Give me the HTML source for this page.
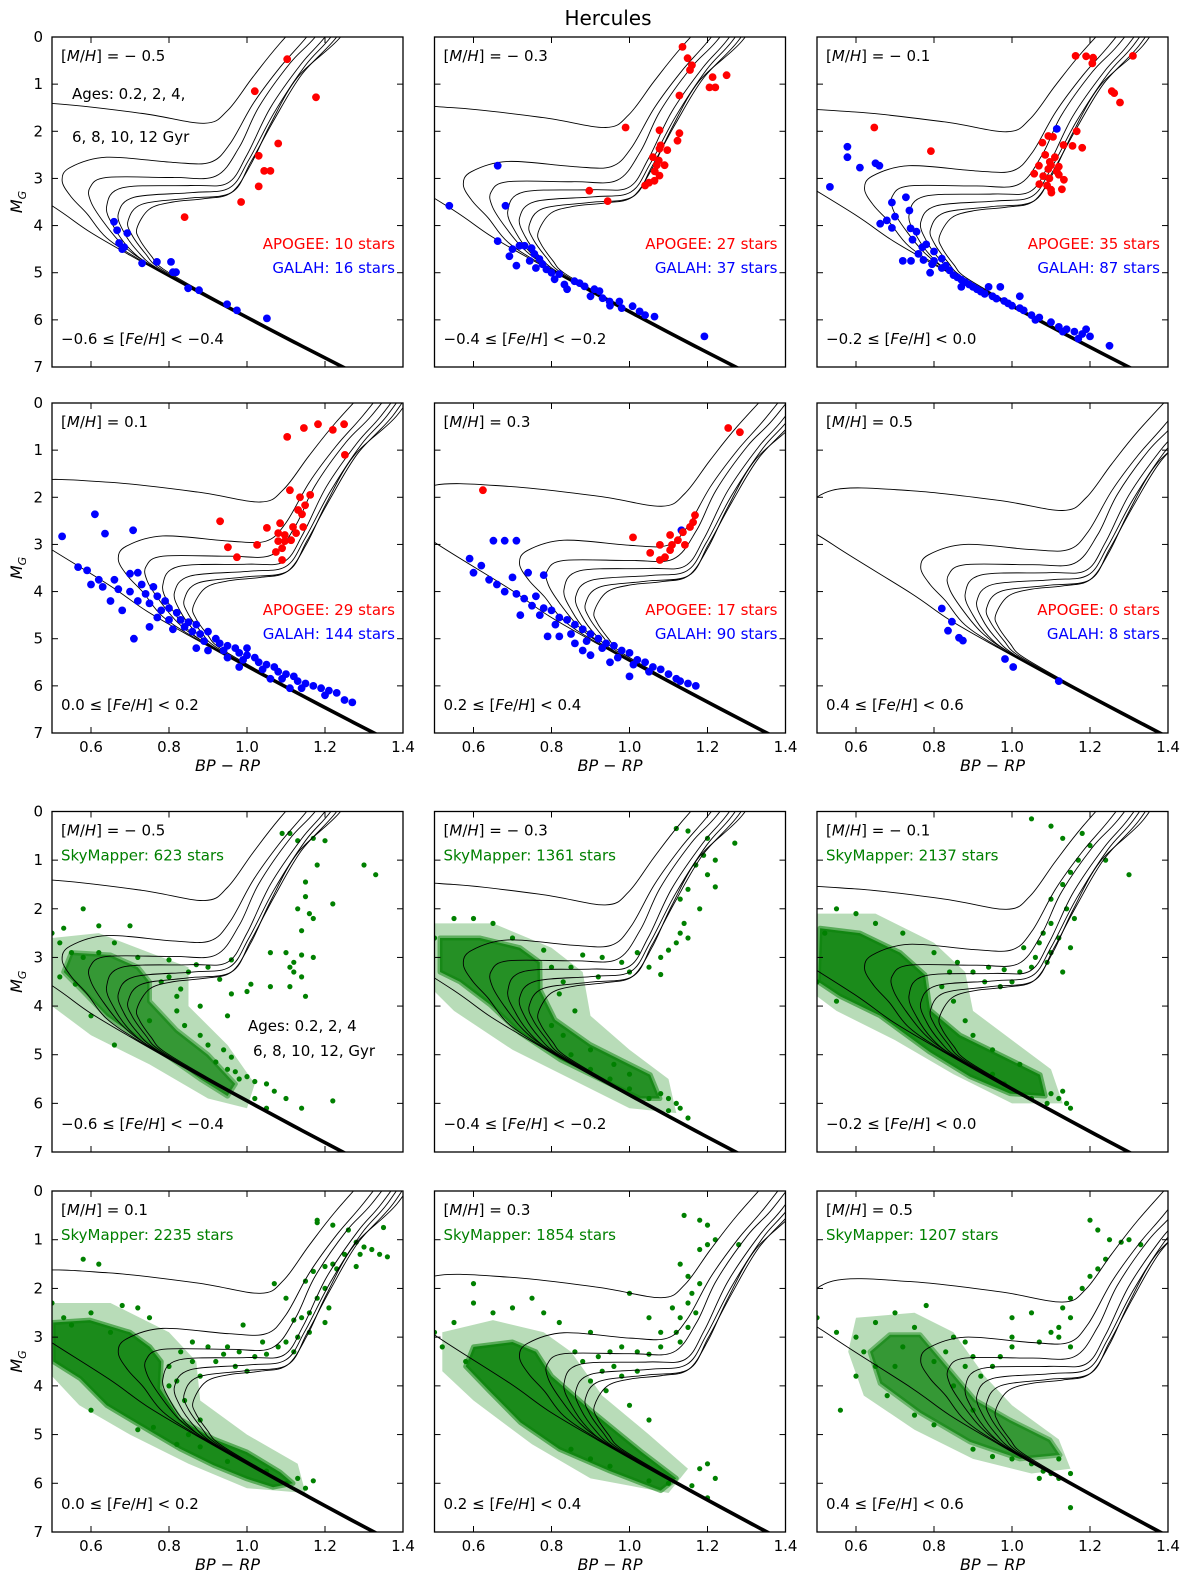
<!DOCTYPE html>
<html><head><meta charset="utf-8"><style>
html,body{margin:0;padding:0;background:#fff;}
svg{display:block;font-family:"DejaVu Sans","Liberation Sans",sans-serif;}
</style></head><body>
<svg id="fig" width="1200" height="1583" viewBox="0 0 1200 1583" xmlns="http://www.w3.org/2000/svg">
<rect width="1200" height="1583" fill="#fff"/>
<text x="608" y="25" font-size="20" text-anchor="middle">Hercules</text>
</svg>
<script>
// ---------- data ----------
const panelMH = [-0.5,-0.3,-0.1,0.1,0.3,0.5,-0.5,-0.3,-0.1,0.1,0.3,0.5];
const feLabels = ["−0.6 ≤ ","−0.4 ≤ ","−0.2 ≤ ","0.0 ≤ ","0.2 ≤ ","0.4 ≤ "];
const feUpper = [" < −0.4"," < −0.2"," < 0.0"," < 0.2"," < 0.4"," < 0.6"];
const mhLabels = [" = − 0.5"," = − 0.3"," = − 0.1"," = 0.1"," = 0.3"," = 0.5"];
const apogeeCounts = [10,27,35,29,17,0];
const galahCounts = [16,37,87,144,90,8];
const skyCounts = [623,1361,2137,2235,1854,1207];
const xTicks = [0.6,0.8,1.0,1.2,1.4];
const xTickLabels = ["0.6","0.8","1.0","1.2","1.4"];
const yTicks = [0,1,2,3,4,5,6,7];
const isoAges = [0.2,2,4,6,8,10,12];
const msTail = [[1.4,7.7],[1.25,7.05],[1.12,6.5],[1.0,5.98],[0.88,5.45]];
const isoUpper = [
 [[0.726,4.75],[0.6,4.15],[0.5,3.58],[0.3,2.55],[0.22,2.0],[0.3,1.4],[0.5,1.41],[0.73,1.62],[0.89,1.83],[0.95,1.56],[1.015,0.85],[1.085,0.13],[1.2,-0.9]],
 [[0.73,4.75],[0.64,4.26],[0.59,3.75],[0.55,3.4],[0.526,3.05],[0.546,2.77],[0.64,2.55],[0.81,2.66],[0.905,2.66],[0.956,2.27],[1.016,1.41],[1.085,0.64],[1.153,0],[1.25,-1]],
 [[0.745,4.8],[0.68,4.4],[0.63,3.9],[0.6,3.5],[0.597,3.2],[0.64,2.98],[0.81,2.98],[0.92,2.95],[0.98,2.34],[1.03,1.49],[1.11,0.56],[1.175,0],[1.27,-1]],
 [[0.755,4.85],[0.7,4.5],[0.66,4.05],[0.64,3.6],[0.68,3.2],[0.855,3.15],[0.95,3.1],[1.0,2.5],[1.06,1.5],[1.14,0.56],[1.2,0],[1.29,-1]],
 [[0.765,4.88],[0.72,4.55],[0.685,4.15],[0.67,3.75],[0.71,3.4],[0.86,3.3],[0.955,3.2],[1.005,2.6],[1.07,1.6],[1.15,0.6],[1.215,0],[1.3,-1]],
 [[0.775,4.9],[0.74,4.6],[0.705,4.2],[0.695,3.9],[0.73,3.55],[0.85,3.42],[0.96,3.3],[1.01,2.65],[1.07,1.75],[1.14,0.8],[1.23,0],[1.31,-1]],
 [[0.785,4.92],[0.755,4.65],[0.725,4.3],[0.718,4.05],[0.75,3.65],[0.81,3.5],[0.89,3.43],[0.96,3.3],[1.01,2.7],[1.06,1.85],[1.13,0.85],[1.24,0],[1.32,-1]]
];
const apogee1 = [[1.103,0.47],[1.02,1.15],[1.177,1.28],[1.08,2.26],[1.03,2.52],[1.044,2.84],[1.06,2.84],[1.03,3.17],[0.985,3.5],[0.84,3.82]];
const galah1 = [[0.659,3.92],[0.667,4.1],[0.693,4.16],[0.672,4.37],[0.685,4.46],[0.68,4.5],[0.731,4.8],[0.769,4.77],[0.805,4.77],[0.81,4.99],[0.818,4.99],[0.849,5.33],[0.877,5.37],[0.949,5.67],[0.974,5.8],[1.051,5.97]];
const apogee2 = [[1.136,0.21],[1.149,0.45],[1.16,0.6],[1.155,0.7],[1.213,0.85],[1.249,0.81],[1.205,1.07],[1.22,1.07],[1.128,1.24],[0.99,1.92],[1.077,1.98],[1.123,2.2],[1.077,2.37],[1.075,2.62],[1.07,2.72],[1.077,2.94],[1.064,3.05],[1.05,3.09],[1.04,3.15],[0.897,3.26],[0.944,3.48],[1.09,2.72],[1.097,2.4],[1.128,2.04],[1.06,2.55],[1.08,2.3],[1.065,2.85]];
const galah2 = [[0.662,2.73],[0.538,3.58],[0.682,3.58],[0.662,4.33],[0.692,4.65],[0.718,4.43],[0.749,4.48],[0.756,4.6],[0.769,4.71],[0.777,4.82],[0.787,4.93],[0.82,5.03],[0.808,5.14],[0.833,5.25],[0.859,5.18],[0.872,5.22],[0.885,5.29],[0.91,5.35],[0.923,5.39],[0.931,5.54],[0.949,5.61],[0.974,5.61],[1.008,5.71],[1.026,5.82],[1.064,5.93],[1.192,6.35],[0.744,4.75],[0.731,4.43],[0.7,4.5],[0.76,4.9],[0.8,5.0],[0.84,5.35],[0.9,5.5],[0.95,5.7],[0.98,5.75],[1.04,5.9],[0.71,4.85]];
const apogee3 = [[1.163,0.40],[1.19,0.41],[1.208,0.44],[1.206,0.56],[1.31,0.40],[1.256,1.15],[1.262,1.19],[1.277,1.39],[0.647,1.92],[0.792,2.42],[1.093,2.1],[1.105,2.12],[1.078,2.24],[1.132,2.29],[1.155,2.31],[1.166,2.0],[1.18,2.35],[1.069,2.73],[1.097,2.65],[1.1,2.72],[1.093,2.8],[1.057,2.9],[1.12,2.92],[1.096,3.0],[1.133,3.03],[1.07,3.12],[1.1,3.24],[1.128,3.23],[1.101,3.3],[1.08,2.95],[1.115,2.85],[1.09,3.15],[1.12,2.75],[1.085,2.5],[1.11,2.55]];
const galah3 = [[0.533,3.18],[0.578,2.33],[0.578,2.55],[0.61,2.77],[0.65,2.68],[0.66,2.73],[1.115,1.95],[0.692,3.51],[0.728,3.4],[0.737,3.68],[0.7,3.81],[0.679,3.89],[0.662,3.96],[0.692,4.05],[0.74,4.06],[0.755,4.13],[0.745,4.3],[0.72,4.75],[0.741,4.75],[0.773,4.73],[0.795,4.82],[0.77,4.46],[0.78,4.4],[0.8,4.55],[0.82,4.7],[0.83,4.85],[0.84,4.95],[0.85,5.05],[0.86,5.1],[0.87,5.15],[0.88,5.2],[0.89,5.25],[0.9,5.3],[0.91,5.35],[0.92,5.4],[0.93,5.45],[0.95,5.5],[0.96,5.55],[0.98,5.6],[0.99,5.65],[1.0,5.7],[1.02,5.75],[1.03,5.8],[1.05,5.9],[1.07,5.95],[1.1,6.05],[1.12,6.15],[1.14,6.2],[1.16,6.25],[1.18,6.3],[1.2,6.35],[1.25,6.55],[0.79,5.0],[0.82,4.9],[0.87,5.3],[0.94,5.3],[1.06,6.0],[1.13,6.25],[1.19,6.2],[0.76,4.6],[0.8,4.75],[0.97,5.3],[1.02,5.5],[1.17,6.4]];
const apogee4 = [[1.103,0.72],[1.146,0.53],[1.182,0.45],[1.22,0.57],[1.249,0.45],[1.251,1.1],[1.11,1.85],[1.136,2.0],[1.149,2.17],[1.141,2.36],[1.118,2.63],[1.144,2.63],[1.126,2.76],[1.097,2.93],[1.113,2.91],[1.08,2.76],[1.08,2.93],[1.09,3.08],[1.09,3.33],[0.951,3.06],[0.931,2.51],[0.974,3.27],[1.026,3.01],[1.097,2.8],[1.162,1.95],[1.131,2.27],[1.074,3.16],[1.085,2.55],[1.051,2.65]];
const galah4 = [[0.526,2.83],[0.567,3.48],[0.61,2.36],[0.636,2.77],[0.708,2.7],[0.59,3.55],[0.62,3.75],[0.66,3.75],[0.7,3.62],[0.72,3.6],[0.6,3.85],[0.63,3.9],[0.67,3.95],[0.7,4.0],[0.73,3.85],[0.76,3.9],[0.74,4.05],[0.77,4.1],[0.72,4.2],[0.75,4.25],[0.79,4.2],[0.8,4.35],[0.78,4.4],[0.82,4.45],[0.77,4.55],[0.8,4.6],[0.83,4.6],[0.85,4.65],[0.87,4.7],[0.84,4.75],[0.81,4.8],[0.86,4.85],[0.88,4.9],[0.9,4.85],[0.92,5.0],[0.89,5.05],[0.93,5.1],[0.95,5.15],[0.97,5.2],[0.94,5.25],[0.98,5.3],[1.0,5.35],[1.02,5.4],[0.99,5.45],[1.03,5.5],[1.05,5.55],[1.07,5.6],[1.04,5.65],[1.08,5.7],[1.1,5.75],[1.12,5.8],[1.09,5.85],[1.13,5.9],[1.15,5.95],[1.17,6.0],[1.14,6.05],[1.19,6.05],[1.21,6.1],[1.23,6.15],[1.2,6.2],[1.25,6.3],[1.27,6.35],[0.71,5.0],[0.75,4.75],[0.87,5.2],[0.9,5.25],[0.95,5.4],[0.65,4.2],[0.68,4.4],[0.98,5.6],[1.06,5.85],[1.0,5.2],[1.11,6.05]];
const apogee5 = [[1.253,0.53],[1.283,0.62],[0.624,1.85],[1.009,2.85],[1.078,3.01],[1.091,3.27],[1.078,3.33],[1.104,3.12],[1.109,3.01],[1.124,2.91],[1.137,2.74],[1.155,2.63],[1.163,2.53],[1.168,2.38],[1.053,3.18],[1.104,2.8],[1.142,3.01]];
const galah5 = [[0.651,2.92],[0.68,2.92],[0.71,2.92],[1.133,2.7],[0.59,3.3],[0.6,3.6],[0.64,3.75],[0.66,3.85],[0.7,3.7],[0.74,3.6],[0.78,3.65],[0.68,4.0],[0.71,4.05],[0.73,4.15],[0.76,4.1],[0.75,4.3],[0.78,4.35],[0.8,4.4],[0.77,4.5],[0.82,4.55],[0.84,4.6],[0.81,4.7],[0.86,4.7],[0.88,4.8],[0.85,4.9],[0.9,4.9],[0.92,5.0],[0.89,5.05],[0.94,5.1],[0.96,5.15],[0.93,5.2],[0.98,5.25],[1.0,5.3],[0.97,5.4],[1.02,5.45],[1.04,5.5],[1.01,5.55],[1.06,5.6],[1.08,5.65],[1.05,5.7],[1.1,5.75],[1.12,5.85],[1.15,5.95],[1.17,6.0],[0.82,4.95],[0.86,5.1],[0.9,5.35],[0.95,5.5],[0.72,4.5],[1.0,5.8],[1.13,5.9],[0.62,3.45],[0.79,4.95],[0.88,5.25]];
const apogee6 = [];
const galah6 = [[0.82,4.36],[0.846,4.64],[0.836,4.83],[0.864,4.98],[0.874,5.04],[0.982,5.43],[1.003,5.6],[1.12,5.9]];
const skyCore7 = [[0.55,2.9],[0.65,2.95],[0.72,3.2],[0.75,3.5],[0.75,3.9],[0.82,4.5],[0.9,5.0],[0.97,5.6],[0.95,5.85],[0.88,5.5],[0.8,5.05],[0.72,4.65],[0.64,4.2],[0.58,3.7],[0.53,3.3]];
const skyCore8 = [[0.514,2.6],[0.617,2.6],[0.719,2.8],[0.77,3.1],[0.771,3.67],[0.809,4.28],[0.899,4.79],[0.976,5.1],[1.053,5.41],[1.078,5.9],[1.027,5.9],[0.924,5.5],[0.822,5.1],[0.719,4.55],[0.642,3.97],[0.565,3.5],[0.514,3.3]];
const skyCore9 = [[0.508,2.4],[0.61,2.5],[0.713,2.9],[0.777,3.36],[0.79,4.08],[0.867,4.6],[0.969,5.0],[1.072,5.41],[1.085,5.85],[0.995,5.8],[0.892,5.45],[0.79,4.95],[0.662,4.2],[0.559,3.8],[0.503,3.5]];
const skyCore10 = [[0.503,2.7],[0.597,2.65],[0.7,2.9],[0.751,3.2],[0.78,3.5],[0.777,4.06],[0.828,4.68],[0.914,5.09],[1.0,5.36],[1.085,5.77],[1.118,6.0],[1.067,6.08],[1.0,5.91],[0.914,5.63],[0.828,5.29],[0.726,4.81],[0.64,4.4],[0.572,3.85],[0.503,3.5]];
const skyCore11 = [[0.6,3.2],[0.7,3.1],[0.76,3.3],[0.8,3.8],[0.9,4.5],[1.03,5.35],[1.12,5.9],[1.08,6.15],[0.95,5.75],[0.82,5.3],[0.72,4.75],[0.64,4.1],[0.58,3.6]];
const skyCore12 = [[0.687,2.95],[0.764,2.95],[0.841,3.68],[0.905,4.29],[0.995,4.7],[1.097,5.11],[1.123,5.42],[1.02,5.5],[0.892,5.15],[0.764,4.55],[0.662,3.95],[0.636,3.3]];
const skyHalo7 = [[0.5,2.6],[0.62,2.5],[0.75,2.9],[0.85,3.2],[0.85,4.0],[0.95,4.8],[1.02,5.6],[1.0,6.1],[0.9,5.9],[0.75,5.2],[0.6,4.6],[0.5,4.0]];
const skyHalo8 = [[0.5,2.3],[0.65,2.3],[0.8,2.8],[0.88,3.3],[0.9,4.2],[1.0,4.9],[1.1,5.5],[1.12,6.2],[1.0,6.1],[0.85,5.5],[0.7,4.9],[0.55,4.1],[0.5,3.7]];
const skyHalo9 = [[0.5,2.1],[0.65,2.1],[0.8,2.7],[0.88,3.3],[0.9,4.1],[1.0,4.7],[1.1,5.3],[1.13,6.0],[1.0,6.0],[0.85,5.4],[0.7,4.7],[0.55,4.1],[0.5,3.8]];
const skyHalo10 = [[0.5,2.3],[0.65,2.3],[0.8,2.9],[0.87,3.5],[0.88,4.3],[1.0,5.0],[1.13,5.6],[1.15,6.2],[1.0,6.1],[0.85,5.6],[0.7,5.0],[0.57,4.4],[0.5,3.8]];
const skyHalo11 = [[0.52,2.9],[0.65,2.65],[0.78,2.9],[0.85,3.3],[0.93,4.2],[1.05,5.0],[1.15,5.7],[1.1,6.2],[0.9,5.9],[0.75,5.2],[0.6,4.3],[0.52,3.7]];
const skyHalo12 = [[0.6,2.6],[0.75,2.5],[0.85,2.9],[0.93,3.8],[1.0,4.4],[1.12,5.1],[1.15,5.7],[1.05,5.8],[0.9,5.5],[0.75,4.9],[0.62,4.2],[0.58,3.3]];
const sky7 = [[1.09,0.45],[1.11,0.45],[1.13,0.6],[1.17,0.55],[1.2,0.6],[1.18,1.1],[1.3,1.1],[1.33,1.3],[1.15,1.45],[1.22,1.9],[1.15,1.75],[1.13,2.0],[1.16,2.1],[1.17,2.2],[1.14,2.45],[1.06,2.9],[1.1,2.9],[1.14,2.95],[1.17,3.0],[1.12,3.1],[1.11,3.2],[1.12,3.3],[1.14,3.4],[1.11,3.6],[1.15,3.8],[1.06,3.6],[1.01,3.55],[1.0,3.7],[0.96,3.75],[0.95,4.2],[0.87,3.15],[0.83,3.65],[0.88,4.0],[0.9,3.2],[0.96,3.05],[0.93,3.45],[0.85,3.3],[0.5,2.5],[0.53,2.4],[0.58,2.0],[0.62,2.35],[0.7,2.35],[0.66,2.7],[0.72,3.0],[0.8,3.05],[0.52,2.7],[0.52,3.4],[0.56,3.55],[0.6,4.2],[0.66,4.8],[0.75,4.3],[0.82,4.1],[0.92,5.15],[0.95,5.3],[0.97,5.35],[1.0,5.45],[1.02,5.55],[1.05,5.6],[1.07,5.75],[1.1,5.9],[1.02,5.9],[1.05,6.1],[1.14,6.1],[1.22,5.95],[0.96,5.05],[0.98,5.5],[0.55,2.9],[0.58,3.0],[0.62,2.9],[0.8,3.4],[0.78,3.5],[0.82,3.8],[0.84,4.4],[0.88,4.6],[0.9,4.8],[0.94,4.9]];
const sky8 = [[1.12,0.35],[1.15,0.4],[1.2,0.55],[1.27,0.65],[1.19,0.9],[1.17,1.1],[1.2,1.3],[1.22,1.55],[1.15,1.6],[1.13,1.8],[1.18,2.0],[1.14,2.3],[1.13,2.5],[1.12,2.7],[1.1,2.85],[1.08,3.0],[1.05,3.2],[1.02,2.9],[0.98,3.1],[0.93,3.0],[0.88,2.95],[0.85,3.2],[0.83,3.5],[0.92,3.4],[1.0,3.3],[1.08,3.35],[1.15,2.6],[1.22,1.0],[0.5,2.6],[0.55,2.2],[0.6,2.2],[0.65,2.3],[0.7,2.6],[0.78,2.85],[0.82,3.75],[0.86,4.1],[0.8,4.4],[1.08,5.8],[1.1,5.9],[1.12,6.0],[1.13,6.1],[1.05,5.9],[1.0,5.7],[0.95,5.5],[1.1,6.15],[1.15,6.3],[0.9,5.3],[0.85,5.0],[0.8,3.2],[0.83,4.6],[0.9,4.9],[0.96,5.2],[1.0,5.4]];
const sky9 = [[1.05,0.15],[1.1,0.3],[1.13,0.55],[1.18,0.45],[1.2,0.7],[1.24,1.0],[1.3,1.3],[1.17,1.0],[1.15,1.25],[1.13,1.5],[1.1,1.8],[1.14,2.0],[1.16,2.2],[1.1,2.3],[1.08,2.5],[1.12,2.6],[1.15,2.8],[1.1,2.9],[1.06,3.0],[1.09,3.1],[1.05,3.2],[1.02,3.3],[0.98,3.25],[0.94,3.2],[0.9,3.3],[0.86,3.1],[1.0,3.5],[0.97,3.6],[0.93,3.5],[1.07,2.7],[1.13,3.3],[1.03,2.8],[0.52,2.5],[0.55,2.0],[0.6,2.1],[0.65,2.3],[0.72,2.5],[0.8,2.9],[0.84,3.3],[0.85,3.9],[0.88,4.3],[0.5,3.5],[0.55,3.9],[1.1,5.8],[1.12,5.9],[1.14,6.0],[1.09,6.0],[1.05,5.9],[0.98,5.6],[0.95,5.4],[1.13,5.75],[1.15,6.1],[0.82,3.6],[0.9,4.6],[0.95,4.9],[1.02,5.2]];
const sky10 = [[1.18,0.6],[1.18,0.65],[1.22,0.7],[1.26,0.8],[1.35,0.75],[1.28,1.05],[1.3,1.15],[1.32,1.2],[1.29,1.3],[1.25,1.3],[1.22,1.5],[1.2,1.55],[1.17,1.65],[1.23,1.6],[1.28,1.55],[1.34,1.3],[1.36,1.35],[1.15,1.85],[1.2,2.0],[1.18,2.2],[1.21,2.4],[1.16,2.5],[1.14,2.6],[1.12,2.65],[1.2,2.7],[1.16,2.9],[1.13,3.0],[1.1,3.1],[1.12,3.3],[1.08,3.2],[1.05,3.35],[1.02,3.4],[0.98,3.3],[0.95,3.2],[0.9,3.2],[0.86,3.1],[0.83,3.3],[0.86,3.5],[0.92,3.5],[0.97,3.6],[1.0,3.7],[0.88,3.8],[0.82,3.9],[0.84,4.3],[0.88,4.7],[0.8,4.0],[0.99,2.75],[1.07,1.9],[1.1,2.2],[0.5,2.3],[0.53,2.6],[0.55,2.75],[0.6,2.5],[0.65,2.9],[0.68,2.35],[0.75,2.6],[0.58,1.4],[0.62,1.5],[0.72,2.4],[0.6,4.5],[0.72,4.9],[0.76,4.85],[0.82,5.2],[0.88,5.25],[1.1,6.0],[1.15,6.1],[1.17,5.95],[1.13,5.9],[1.05,5.75],[0.95,5.55],[0.85,5.0],[0.8,3.6],[1.04,3.1],[0.94,3.35]];
const sky11 = [[1.14,0.5],[1.18,0.6],[1.2,0.7],[1.22,1.0],[1.2,1.1],[1.28,1.1],[1.18,1.2],[1.13,1.5],[1.15,1.75],[1.18,1.9],[1.16,2.1],[1.15,2.3],[1.17,2.5],[1.13,2.6],[1.15,2.8],[1.12,2.9],[1.13,3.1],[1.08,3.2],[1.05,3.35],[1.02,3.3],[0.98,3.2],[0.95,3.3],[0.92,3.4],[0.88,3.5],[0.96,3.6],[1.02,3.7],[0.98,3.8],[0.9,3.9],[0.94,4.1],[1.0,2.1],[1.05,2.6],[0.82,2.7],[0.9,2.9],[1.08,2.9],[1.11,2.4],[0.5,2.9],[0.55,2.7],[0.6,2.3],[0.65,2.5],[0.7,2.4],[0.75,2.2],[0.78,2.5],[0.6,1.9],[0.52,3.2],[0.58,3.5],[1.2,5.6],[1.18,5.7],[1.22,5.9],[1.16,6.05],[1.1,6.0],[1.05,5.95],[0.95,5.65],[0.9,5.5],[0.85,5.3],[1.2,6.3],[0.93,3.7],[0.86,3.3],[1.0,4.4],[1.05,4.7]];
const sky12 = [[1.2,0.6],[1.22,0.8],[1.25,1.0],[1.28,1.05],[1.3,1.0],[1.33,1.1],[1.24,1.4],[1.22,1.6],[1.2,1.75],[1.18,2.0],[1.15,2.2],[1.13,2.4],[1.15,2.6],[1.12,2.8],[1.1,2.9],[1.12,3.0],[1.05,2.5],[1.0,2.6],[1.0,3.0],[1.0,3.2],[0.97,3.4],[0.95,3.6],[0.92,3.8],[0.9,3.4],[0.88,3.1],[0.85,3.0],[0.83,3.3],[0.88,3.6],[1.07,3.1],[1.15,3.2],[0.5,2.6],[0.55,2.9],[0.6,3.0],[0.62,3.3],[0.65,2.7],[0.7,2.5],[0.75,2.8],[0.78,2.35],[0.56,4.5],[0.6,3.8],[0.65,3.6],[0.68,4.2],[1.0,5.5],[1.05,5.6],[1.08,5.75],[1.1,5.8],[1.12,5.9],[1.15,5.8],[1.07,5.9],[1.15,6.5],[0.95,5.45],[0.9,5.3],[0.8,4.8],[0.75,4.6],[1.12,5.5],[0.72,3.2],[0.8,3.5],[0.7,3.6],[0.85,4.0],[0.9,4.5]];
const apogeeSets = [apogee1,apogee2,apogee3,apogee4,apogee5,apogee6];
const galahSets = [galah1,galah2,galah3,galah4,galah5,galah6];
const skySets = [sky7,sky8,sky9,sky10,sky11,sky12];
const skyCores = [skyCore7,skyCore8,skyCore9,skyCore10,skyCore11,skyCore12];
const skyHalos = [skyHalo7,skyHalo8,skyHalo9,skyHalo10,skyHalo11,skyHalo12];
const coreOpacity = [0.75,0.85,0.9,0.9,0.9,0.75];

// ---------- layout ----------
const colLeft = [52,434.5,817];
const rowTop = [37,403,811.5,1191];
const rowH = [330,330,340.5,341];
const W = 351;
const NS = "http://www.w3.org/2000/svg";
const svg = document.getElementById('fig');
function mk(tag, attrs, parent){ const e=document.createElementNS(NS,tag); for(const k in attrs) e.setAttribute(k,attrs[k]); (parent||svg).appendChild(e); return e; }
function catmull(pts){
  let d = "M"+pts[0][0].toFixed(2)+","+pts[0][1].toFixed(2);
  for(let i=0;i<pts.length-1;i++){
    const p0=pts[Math.max(i-1,0)], p1=pts[i], p2=pts[i+1], p3=pts[Math.min(i+2,pts.length-1)];
    const c1=[p1[0]+(p2[0]-p0[0])/6, p1[1]+(p2[1]-p0[1])/6];
    const c2=[p2[0]-(p3[0]-p1[0])/6, p2[1]-(p3[1]-p1[1])/6];
    d += "C"+c1[0].toFixed(2)+","+c1[1].toFixed(2)+" "+c2[0].toFixed(2)+","+c2[1].toFixed(2)+" "+p2[0].toFixed(2)+","+p2[1].toFixed(2);
  }
  return d;
}
function addLabel(parent, x, y, parts, opts){
  const t = mk('text', Object.assign({x:x,y:y,'font-size':15}, opts||{}), parent);
  parts.forEach(p=>{ const s=mk('tspan', p[1]?{'font-style':'italic'}:{}, t); s.textContent=p[0]; });
  return t;
}

for(let p=0;p<12;p++){
  const r = Math.floor(p/3), c = p%3, k = p%6;
  const L = colLeft[c], T = rowTop[r], H = rowH[r];
  const xs = v => L + (v-0.5)/0.9*W;
  const ys = v => T + v/7*H;
  const g = mk('g',{});
  
  
  const cp = mk('clipPath',{id:'clip'+p}, g);
  mk('rect',{x:L,y:T,width:W,height:H}, cp);
  const plot = mk('g',{'clip-path':'url(#clip'+p+')'}, g);
  if(r>=2){
    const halo = skyHalos[k].map(q=>xs(q[0]).toFixed(1)+","+ys(q[1]).toFixed(1)).join(" ");
    const hp = mk('polygon',{points:halo, fill:'#008000','fill-opacity':0.28, stroke:'none'}, plot);
    
    
    const core = skyCores[k].map(q=>xs(q[0]).toFixed(1)+","+ys(q[1]).toFixed(1)).join(" ");
    const poly = mk('polygon',{points:core, fill:'#0a820a','fill-opacity':coreOpacity[k], stroke:'#0a820a','stroke-opacity':coreOpacity[k]*0.6,'stroke-width':5,'stroke-linejoin':'round'}, plot);
    
    
    skySets[k].forEach(q=>{
      const d = mk('circle',{cx:xs(q[0]).toFixed(1),cy:ys(q[1]).toFixed(1),r:2.6,fill:'#008000'}, plot);
      
      
    });
  }
  const d = panelMH[p]+0.5;
  const dc = 0.24*d, dm = 0.45*d;
  isoUpper.forEach((up,i)=>{
    const pts = msTail.map(q=>[q[0]+0.0025*i,q[1]]).concat(up).map(q=>[xs(q[0]+dc),ys(q[1]+dm)]);
    const path = mk('path',{d:catmull(pts),fill:'none',stroke:'#000','stroke-width':0.9}, plot);
    
    
  });
  if(r<2){
    galahSets[k].forEach(q=>{
      const e = mk('circle',{cx:xs(q[0]).toFixed(1),cy:ys(q[1]).toFixed(1),r:3.9,fill:'#0000ff'}, plot);
      
      
    });
    apogeeSets[k].forEach(q=>{
      const e = mk('circle',{cx:xs(q[0]).toFixed(1),cy:ys(q[1]).toFixed(1),r:3.9,fill:'#ff0000'}, plot);
      
      
    });
  }
  const fr = mk('rect',{x:L,y:T,width:W,height:H,fill:'none',stroke:'#000','stroke-width':1.3}, g);
  
  
  xTicks.forEach((v,i)=>{
    const X = xs(v);
    mk('line',{x1:X,y1:T+H,x2:X,y2:T+H-6,stroke:'#000','stroke-width':1}, g);
    mk('line',{x1:X,y1:T,x2:X,y2:T+6,stroke:'#000','stroke-width':1}, g);
    if(r===1||r===3){
      const t = mk('text',{x:X,y:T+H+19,'font-size':15,'text-anchor':'middle'}, g);
      
      
      t.textContent = xTickLabels[i];
    }
  });
  yTicks.forEach(v=>{
    const Y = ys(v);
    mk('line',{x1:L,y1:Y,x2:L+6,y2:Y,stroke:'#000','stroke-width':1}, g);
    mk('line',{x1:L+W,y1:Y,x2:L+W-6,y2:Y,stroke:'#000','stroke-width':1}, g);
    if(c===0){
      const t = mk('text',{x:L-9,y:Y+5,'font-size':15,'text-anchor':'end'}, g);
      
      
      t.textContent = String(v);
    }
  });
  const mh = addLabel(g, L+9, T+24, [["[",0],["M",1],["/",0],["H",1],["]",0],[mhLabels[k],0]]);
  
  
  const fe = addLabel(g, L+9, T+H-23, [[feLabels[k]+"[",0],["Fe",1],["/",0],["H",1],["]"+feUpper[k],0]]);
  
  
  if(r<2){
    const a = addLabel(g, L+W-8, T+212, [["APOGEE: "+apogeeCounts[k]+" stars",0]], {'text-anchor':'end',fill:'#ff0000'});
    
    
    const b = addLabel(g, L+W-8, T+236, [["GALAH: "+galahCounts[k]+" stars",0]], {'text-anchor':'end',fill:'#0000ff'});
    
    
  } else {
    const s = addLabel(g, L+9, T+49, [["SkyMapper: "+skyCounts[k]+" stars",0]], {fill:'#008000'});
    
    
  }
  if(p===0){
    const a1 = addLabel(g, 72, 99, [["Ages: 0.2, 2, 4,",0]]);
    
    
    const a2 = addLabel(g, 72, 142, [["6, 8, 10, 12 Gyr",0]]);
    
    
  }
  if(p===6){
    const a1 = addLabel(g, 248, 1031, [["Ages: 0.2, 2, 4",0]]);
    
    
    const a2 = addLabel(g, 253, 1056, [["6, 8, 10, 12, Gyr",0]]);
    
    
  }
  if(c===0){
    const yt = mk('text',{x:0,y:0,'font-size':16,'font-style':'italic','text-anchor':'middle',transform:'translate(22,'+(T+H/2)+') rotate(-90)'}, g);
    
    
    yt.appendChild(document.createTextNode('M'));
    const sub = mk('tspan',{'font-size':11,dy:4}, yt); sub.textContent='G';
  }
  if(r===1||r===3){
    const xt = mk('text',{x:L+W/2,y:T+H+38,'font-size':16,'font-style':'italic','text-anchor':'middle'}, g);
    
    
    xt.textContent = 'BP − RP';
  }
}
</script>
</body></html>
